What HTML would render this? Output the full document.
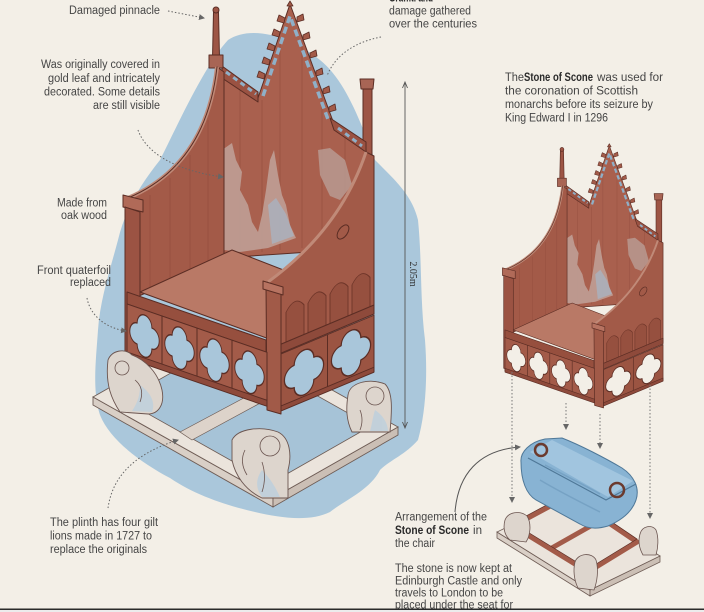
<!DOCTYPE html>
<html><head><meta charset="utf-8">
<style>
html,body{margin:0;padding:0;background:#f3efe7;}
svg{display:block;}
.t{font-family:"Liberation Sans",sans-serif;font-size:11.5px;fill:#454545;}
.b{font-weight:bold;fill:#2a2a2a;}
.qf{fill:var(--qf);stroke:#5b2d24;stroke-width:0.9;}
</style></head>
<body>
<svg width="704" height="612" viewBox="0 0 704 612" xmlns="http://www.w3.org/2000/svg">
<defs>
  <path id="qf" class="qf" d="M7,-7 A7,7 0 0 0 -7,-7 A7,7 0 0 0 -7,7 A7,7 0 0 0 7,7 A7,7 0 0 0 7,-7 Z"/>
  <marker id="ah" markerWidth="6" markerHeight="6" refX="5" refY="3" orient="auto"><path d="M0,0 L6,3 L0,6 Z" fill="#666"/></marker>
  <g id="chair" stroke-linejoin="round">
    <path d="M363,88 L372,88 L372,162 L363,162 Z" fill="#9d5545" stroke="#5b2d24"/>
    <path d="M360,79 L374,79 L373,89 L361,89 Z" fill="#a86555" stroke="#5b2d24"/>
    <path d="M218,70 L258,98 L290,4 L334,124 L366,148 L368,248 L222,258 Z" fill="#a9604e" stroke="#5b2d24"/>
    <g stroke="#8a4537" stroke-width="0.8" opacity="0.55">
      <line x1="240" y1="86" x2="240" y2="255"/><line x1="262" y1="100" x2="262" y2="252"/>
      <line x1="280" y1="40" x2="280" y2="250"/><line x1="302" y1="40" x2="302" y2="248"/>
      <line x1="322" y1="95" x2="322" y2="247"/><line x1="345" y1="135" x2="345" y2="246"/>
    </g>
    <path d="M222,150 L232,143 L236,160 L242,172 L240,190 L248,205 L252,222 L258,232 L262,215 L266,190 L270,160 L274,150 L278,175 L282,195 L286,205 L290,225 L296,238 L268,248 L240,252 L224,250 Z" fill="#bf9f96" opacity="0.9"/>
    <path d="M268,205 L276,198 L286,214 L294,236 L272,244 Z" fill="#a9b3c0" opacity="0.8"/>
    <path d="M318,150 L330,148 L345,160 L352,185 L340,200 L330,196 L320,175 Z" fill="#b99a92" opacity="0.85"/>
    <path d="M222,66 L258,92 L258,102 L222,78 Z" fill="#9a5242" stroke="#5b2d24"/>
    <path d="M330,118 L366,142 L366,152 L334,130 Z" fill="#9a5242" stroke="#5b2d24"/>
    <line x1="226" y1="72" x2="256" y2="94" stroke="#8fb0c8" stroke-width="3" stroke-dasharray="5 4"/>
    <line x1="338" y1="128" x2="362" y2="146" stroke="#8fb0c8" stroke-width="3" stroke-dasharray="5 4"/>
    <polyline points="263,96 290,16 329,122" fill="none" stroke="#8fb0c8" stroke-width="3.5" stroke-dasharray="7 4"/>
    <g fill="#a35b49" stroke="#5b2d24" stroke-width="0.8">
      <path d="M264,79 l-7,-2 l2,-6 l6,3 Z"/><path d="M269,65 l-7,-2 l2,-6 l6,3 Z"/>
      <path d="M274,51 l-7,-2 l2,-6 l6,3 Z"/><path d="M279,37 l-7,-2 l2,-6 l6,3 Z"/>
      <path d="M284,23 l-7,-2 l2,-6 l6,3 Z"/>
      <path d="M297,22 l7,-2 l-1,-6 l-6,3 Z"/><path d="M303,40 l7,-2 l-1,-6 l-6,3 Z"/>
      <path d="M310,58 l7,-2 l-1,-6 l-6,3 Z"/><path d="M316,76 l7,-2 l-1,-6 l-6,3 Z"/>
      <path d="M323,94 l7,-2 l-1,-6 l-6,3 Z"/><path d="M329,112 l7,-2 l-1,-6 l-6,3 Z"/>
      <path d="M287,6 l3,-5 l3,5 Z"/>
    </g>
    <path d="M213.5,12 L218.5,12 L219.5,58 L212.5,58 Z" fill="#9d5545" stroke="#5b2d24"/>
    <circle cx="216" cy="10" r="3" fill="#9d5545" stroke="#5b2d24"/>
    <path d="M209,55 L223,55 L223,68 L209,68 Z" fill="#a86555" stroke="#5b2d24"/>
    <path d="M217,67 Q206,165 128,198 L130,300 L224,258 L224,72 Z" fill="#a35a48" stroke="#5b2d24"/>
    <g stroke="#8a4537" stroke-width="0.8" opacity="0.55">
      <line x1="150" y1="195" x2="150" y2="290"/><line x1="170" y1="178" x2="170" y2="282"/>
      <line x1="190" y1="155" x2="190" y2="272"/><line x1="208" y1="120" x2="208" y2="265"/>
    </g>
    <path d="M217,67 Q206,165 128,198" fill="none" stroke="#c08a78" stroke-width="4"/>
    <path d="M217,67 Q206,165 128,198" fill="none" stroke="#5b2d24" stroke-width="1"/>
    <path d="M123,195 L143,200 L143,212 L123,207 Z" fill="#b06a58" stroke="#5b2d24"/>
    <path d="M125,207 L140,212 L140,356 L125,352 Z" fill="#9b5343" stroke="#5b2d24"/>
    <path d="M140,292 L232,250 L335,290 L272,340 Z" fill="#b97966" stroke="#5b2d24"/>
    <path d="M268,282 C305,255 345,215 366,152 L374,156 L374,312 L277,352 L268,292 Z" fill="#a25a48" stroke="#5b2d24"/>
    <path d="M268,282 C305,255 345,215 366,152" fill="none" stroke="#c08a78" stroke-width="3"/>
    <ellipse cx="343" cy="232" rx="4.5" ry="8" transform="rotate(35 343 232)" fill="none" stroke="#5b2d24"/>
    <g transform="matrix(1,-0.417,0,1,282,302)" fill="#96503f" stroke="#6e3529" stroke-width="0.9">
      <path d="M4,42 L4,12 Q13,-2 22,12 L22,42 Z"/>
      <path d="M26,42 L26,12 Q35,-2 44,12 L44,42 Z"/>
      <path d="M48,42 L48,12 Q57,-2 66,12 L66,42 Z"/>
      <path d="M70,42 L70,12 Q79,-2 88,12 L88,42 Z"/>
    </g>
    <path d="M279,345 L374,305 L374,314 L279,354 Z" fill="#8e4a3b" stroke="#5b2d24"/>
    <path d="M266,285 L281,290 L281,414 L267,410 Z" fill="#a15a48" stroke="#5b2d24"/>
    <path d="M263,281 L283,287 L283,295 L263,289 Z" fill="#b77361" stroke="#5b2d24"/>
    <path d="M127,292 L266,340 L266,352 L127,304 Z" fill="#964f3e" stroke="#5b2d24"/>
    <g transform="matrix(1,0.345,0,1,127,304)">
      <rect x="0" y="0" width="140" height="52" fill="#a35b49" stroke="#5b2d24"/>
      <line x1="35" y1="0" x2="35" y2="52" stroke="#5b2d24"/>
      <line x1="70" y1="0" x2="70" y2="52" stroke="#5b2d24"/>
      <line x1="105" y1="0" x2="105" y2="52" stroke="#5b2d24"/>
      <use href="#qf" transform="translate(17.5,26) scale(1.05,1.5)"/>
      <use href="#qf" transform="translate(52.5,26) scale(1.05,1.5)"/>
      <use href="#qf" transform="translate(87.5,26) scale(1.05,1.5)"/>
      <use href="#qf" transform="translate(122.5,26) scale(1.05,1.5)"/>
      <rect x="0" y="48" width="140" height="6" fill="#8e4a3b" stroke="#5b2d24"/>
    </g>
    <g transform="matrix(1,-0.417,0,1,281,354)">
      <rect x="0" y="0" width="93" height="56" fill="#9b5442" stroke="#5b2d24"/>
      <line x1="46.5" y1="0" x2="46.5" y2="56" stroke="#5b2d24"/>
      <use href="#qf" transform="translate(23,28) scale(1.4,1.6)"/>
      <use href="#qf" transform="translate(70,28) scale(1.4,1.6)"/>
      <rect x="0" y="52" width="93" height="5" fill="#8e4a3b" stroke="#5b2d24"/>
    </g>
  </g>
</defs>

<path d="M228,40 C250,25 290,35 320,60 C345,80 360,120 375,160 C395,180 412,195 418,220 C422,260 420,300 425,340 C428,380 425,415 418,440 C405,455 390,460 380,470 C370,490 345,500 330,512 C310,522 280,518 255,512 C225,505 195,495 170,478 C140,462 110,440 100,415 C92,390 96,360 98,330 C100,300 110,270 118,240 C125,210 140,185 160,160 C180,120 205,65 228,40 Z" fill="#aac7db"/>

<path d="M93,397 L273,498 L273,507 L93,405 Z" fill="#d9cfc6" stroke="#6e5c55" stroke-width="0.9"/>
<path d="M273,498 L398,427 L398,435 L273,507 Z" fill="#cbbfb5" stroke="#6e5c55" stroke-width="0.9"/>
<path d="M93,397 L273,498 L398,427 L218,326 Z" fill="#ebe4dc" stroke="#6e5c55" stroke-width="0.9"/>
<path d="M123.5,400 L271,483 L371,426 L223.5,343 Z" fill="#a6c3d7" stroke="#6e5c55" stroke-width="0.8"/>
<path d="M180,432 L300,368 L312,375 L192,440 Z" fill="#ddd3ca" stroke="#6e5c55" stroke-width="0.7"/>

<use href="#chair" style="--qf:#a9c6da"/>

<g fill="#ddd5cd" stroke="#6b5550" stroke-width="0.9">
  <path d="M108,360 C112,350 125,348 132,355 C145,360 158,372 162,390 C165,405 158,414 148,414 L120,412 C112,400 105,385 108,360 Z"/>
  <path d="M232,440 C238,428 262,426 278,432 C290,438 292,455 288,470 L288,498 L262,498 C245,490 235,475 232,460 Z"/>
  <path d="M348,395 C350,382 370,378 385,384 C393,392 392,410 390,432 L352,432 C346,420 346,408 348,395 Z"/>
</g>
<g fill="#b8cfe0" opacity="0.7">
  <path d="M140,385 C150,392 156,402 152,412 L132,411 C138,402 140,395 140,385 Z"/>
  <path d="M262,470 C270,478 276,488 280,497 L262,497 C255,488 256,478 262,470 Z"/>
  <path d="M375,410 C383,415 388,424 388,431 L370,431 C372,424 373,416 375,410 Z"/>
</g>
<g fill="none" stroke="#6b5550" stroke-width="0.8">
  <circle cx="122" cy="368" r="7"/><path d="M135,380 q10,8 5,22"/>
  <circle cx="270" cy="446" r="10"/><path d="M262,462 q5,15 0,30"/><path d="M245,450 q-6,12 2,25"/>
  <circle cx="375" cy="396" r="9"/><path d="M360,410 q4,10 0,20"/>
</g>

<path d="M497,532 L590,590 L590,596 L497,538 Z" fill="#d9cfc6" stroke="#6e5c55" stroke-width="0.8"/>
<path d="M590,590 L660,556 L660,562 L590,596 Z" fill="#cbbfb5" stroke="#6e5c55" stroke-width="0.8"/>
<path d="M497,532 L590,590 L660,556 L567,498 Z" fill="#ebe4dc" stroke="#6e5c55" stroke-width="0.8"/>
<g fill="none" stroke="#a35b49" stroke-width="5" stroke-linejoin="round">
  <path d="M513,526 L588,572 L637,542 L569,496 Z"/>
  <path d="M550,549 L603,519"/>
</g>
<g fill="none" stroke="#5b2d24" stroke-width="0.7">
  <path d="M513,523 L588,569 L637,539 L569,493 Z"/>
</g>
<g fill="#ddd5cd" stroke="#6b5550" stroke-width="0.8">
  <path d="M505,520 C508,512 520,510 527,516 C532,524 530,536 526,542 L510,540 C504,535 503,527 505,520 Z"/>
  <path d="M575,562 C578,553 592,552 596,560 C599,570 597,582 594,590 L578,588 C574,580 573,570 575,562 Z"/>
  <path d="M640,534 C642,526 652,524 656,530 C659,538 658,548 656,555 L643,555 C639,548 638,541 640,534 Z"/>
</g>

<!-- stone -->
<path d="M521,462 C520,452 530,442 545,439 L562,438 C580,445 605,458 622,468 C634,476 640,488 636,500 C632,512 622,520 608,526 C598,529 588,529 580,524 L536,500 C526,494 521,480 521,462 Z" fill="#88b3d3" stroke="#4f7898" stroke-width="1"/>
<path d="M530,452 L552,440 L633,481 L608,497 Z" fill="#a6c8e0" opacity="0.85"/>
<path d="M528,458 L606,500 L636,484" fill="none" stroke="#4f7898" stroke-width="1.2"/>
<path d="M545,465 C570,478 590,488 600,494 M540,480 C560,492 580,502 600,512" fill="none" stroke="#6f9bbd" stroke-width="1.5" opacity="0.7"/>
<circle cx="541" cy="450" r="6" fill="none" stroke="#6b3a2e" stroke-width="2.5"/>
<circle cx="617" cy="490" r="7" fill="none" stroke="#6b3a2e" stroke-width="2.5"/>

<use href="#chair" transform="translate(423.7,143) scale(0.64)" style="--qf:#f3efe7"/>

<g stroke="#777" stroke-width="1" stroke-dasharray="1.5 2" fill="none" marker-end="url(#ah)">
  <line x1="512" y1="372" x2="512" y2="502"/>
  <line x1="566" y1="403" x2="566" y2="429"/>
  <line x1="600" y1="414" x2="600" y2="448"/>
  <line x1="650" y1="385" x2="650" y2="518"/>
</g>
<path d="M455,512 C458,475 478,450 520,447" fill="none" stroke="#555" stroke-width="1" marker-end="url(#ah)"/>

<g fill="none" stroke="#666" stroke-width="1" stroke-dasharray="1.5 2">
  <path d="M168,11 L204,18" marker-end="url(#ah)"/>
  <path d="M138,130 C145,150 170,170 223,177" marker-end="url(#ah)"/>
  <path d="M87,298 C90,315 105,328 126,331" marker-end="url(#ah)"/>
  <path d="M108,508 C112,480 130,455 178,440" marker-end="url(#ah)"/>
  <path d="M381,37 C355,42 335,55 327,76"/>
</g>

<line x1="405" y1="83" x2="405" y2="428" stroke="#555" stroke-width="0.9"/>
<path d="M402.5,88 L405,82 L407.5,88" fill="none" stroke="#555" stroke-width="0.9"/>
<path d="M402.5,422 L405,428 L407.5,422" fill="none" stroke="#555" stroke-width="0.9"/>
<text transform="translate(410,274) rotate(90)" text-anchor="middle" font-family="Liberation Serif,serif" font-size="10" fill="#333">2.05m</text>

<text class="t" x="69" y="14" textLength="91" lengthAdjust="spacingAndGlyphs">Damaged pinnacle</text>
<text class="t" x="41" y="68" textLength="119" lengthAdjust="spacingAndGlyphs">Was originally covered in</text>
<text class="t" x="48" y="82" textLength="112" lengthAdjust="spacingAndGlyphs">gold leaf and intricately</text>
<text class="t" x="44" y="95.5" textLength="116" lengthAdjust="spacingAndGlyphs">decorated. Some details</text>
<text class="t" x="93" y="109" textLength="67" lengthAdjust="spacingAndGlyphs">are still visible</text>

<text class="t" x="57" y="206.5" textLength="50" lengthAdjust="spacingAndGlyphs">Made from</text>
<text class="t" x="61" y="219" textLength="46" lengthAdjust="spacingAndGlyphs">oak wood</text>
<text class="t" x="37" y="274" textLength="74" lengthAdjust="spacingAndGlyphs">Front quaterfoil</text>
<text class="t" x="70" y="286" textLength="41" lengthAdjust="spacingAndGlyphs">replaced</text>

<text class="t" x="50" y="526" textLength="108" lengthAdjust="spacingAndGlyphs">The plinth has four gilt</text>
<text class="t" x="50" y="539.5" textLength="102" lengthAdjust="spacingAndGlyphs">lions made in 1727 to</text>
<text class="t" x="50" y="553" textLength="97" lengthAdjust="spacingAndGlyphs">replace the originals</text>

<text class="t b" x="389" y="1.5" textLength="44" lengthAdjust="spacingAndGlyphs">Graffiti and</text>
<text class="t" x="389" y="14.5" textLength="82" lengthAdjust="spacingAndGlyphs">damage gathered</text>
<text class="t" x="389" y="27.5" textLength="88" lengthAdjust="spacingAndGlyphs">over the centuries</text>

<text class="t" x="505" y="81" textLength="19" lengthAdjust="spacingAndGlyphs">The</text>
<text class="t b" x="524" y="81" textLength="69" lengthAdjust="spacingAndGlyphs">Stone of Scone</text>
<text class="t" x="597" y="81" textLength="66" lengthAdjust="spacingAndGlyphs">was used for</text>
<text class="t" x="505" y="94.5" textLength="133" lengthAdjust="spacingAndGlyphs">the coronation of Scottish</text>
<text class="t" x="505" y="108" textLength="148" lengthAdjust="spacingAndGlyphs">monarchs before its seizure by</text>
<text class="t" x="505" y="121.5" textLength="103" lengthAdjust="spacingAndGlyphs">King Edward I in 1296</text>

<text class="t" x="395" y="520.5" textLength="92" lengthAdjust="spacingAndGlyphs">Arrangement of the</text>
<text class="t b" x="395" y="534" textLength="74" lengthAdjust="spacingAndGlyphs">Stone of Scone</text>
<text class="t" x="473" y="534" textLength="9" lengthAdjust="spacingAndGlyphs">in</text>
<text class="t" x="395" y="547" textLength="40" lengthAdjust="spacingAndGlyphs">the chair</text>
<text class="t" x="395" y="572" textLength="117" lengthAdjust="spacingAndGlyphs">The stone is now kept at</text>
<text class="t" x="395" y="584.5" textLength="127" lengthAdjust="spacingAndGlyphs">Edinburgh Castle and only</text>
<text class="t" x="395" y="596.5" textLength="108" lengthAdjust="spacingAndGlyphs">travels to London to be</text>
<text class="t" x="395" y="608.5" textLength="118" lengthAdjust="spacingAndGlyphs">placed under the seat for</text>

<rect x="0" y="609" width="704" height="3" fill="#ececec"/>
<rect x="0" y="608.5" width="704" height="1.5" fill="#2a2a2a"/>
</svg>
</body></html>
